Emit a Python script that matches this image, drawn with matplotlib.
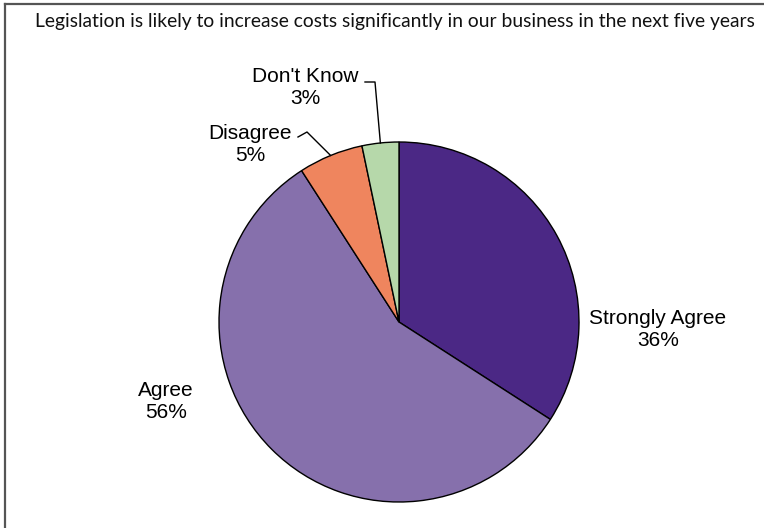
import matplotlib
matplotlib.use("Agg")
import numpy as np
from matplotlib import pyplot as plt
from matplotlib.lines import Line2D

# data
categories = ["Strongly Agree", "Agree", "Disagree", "Don't Know"]
shares = [34.1, 56.8, 5.8, 3.3]          # wedge sizes as drawn
pct_labels = ["36%", "56%", "5%", "3%"]  # printed labels
colors = ["#4b2885", "#8670ac", "#ef855e", "#b6d8aa"]
title = "Legislation is likely to increase costs significantly in our business in the next five years"

W, H = 764, 528
fig = plt.figure(figsize=(W / 100, H / 100), dpi=100)

# pie axes: centre (399, 322) px, radius 180 px
cx, cy, r = 399, 322, 180
ax = fig.add_axes([(cx - r) / W, (H - cy - r) / H, 2 * r / W, 2 * r / H])
wedges, _ = ax.pie(shares, colors=colors, startangle=90, counterclock=False,
                   wedgeprops=dict(edgecolor="black", linewidth=1.0))
ax.set_xlim(-1, 1)
ax.set_ylim(-1, 1)
ax.set_aspect("auto")
ax.axis("off")

def px(x, y):
    # pixel (top-left origin) -> pie data coords
    return (x - cx) / r, (cy - y) / r

label_pos = {
    "Strongly Agree": (658, 330),
    "Agree": (166, 402),
    "Disagree": (250, 144),
    "Don't Know": (305, 87),
}
leader_knees = {
    "Disagree": [(298, 137), (307, 132)],
    "Don't Know": [(365, 82), (375, 82)],
}

for w, cat, pl in zip(wedges, categories, pct_labels):
    lx, ly = px(*label_pos[cat])
    ax.text(lx, ly, f"{cat}\n{pl}", ha="center", va="center", fontsize=15,
            family="Liberation Sans", linespacing=1.2, clip_on=False)
    if cat in leader_knees:
        mid = np.deg2rad((w.theta1 + w.theta2) / 2)
        pts = [px(*p) for p in leader_knees[cat]]
        pts.append((np.cos(mid), np.sin(mid)))
        xs, ys = zip(*pts)
        ax.add_line(Line2D(xs, ys, color="black", linewidth=1.0, clip_on=False))

fig.text(35 / W, 1 - 21 / H, title, ha="left", va="center", fontsize=13.9,
         family="Lato", color="#111111")

# border on left and top edges
fig.add_artist(Line2D([4.5 / W, 4.5 / W], [0, 1 - 3.5 / H], transform=fig.transFigure,
                      color="#555555", linewidth=1.6))
fig.add_artist(Line2D([4.5 / W, 1], [1 - 3.5 / H, 1 - 3.5 / H], transform=fig.transFigure,
                      color="#555555", linewidth=1.6))

fig.savefig("out.png", dpi=100)
